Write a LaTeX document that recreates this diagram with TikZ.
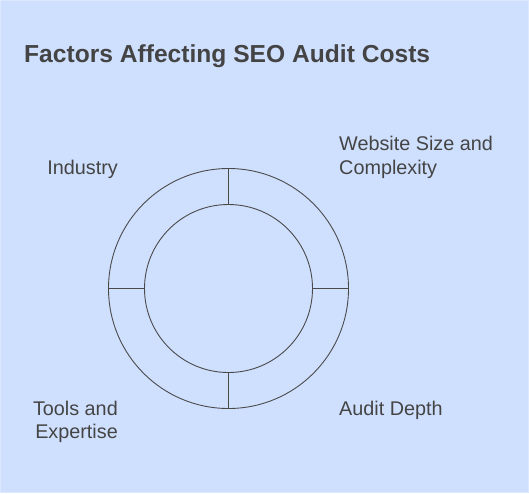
\documentclass[tikz,border=0pt]{standalone}
\usepackage{fontspec}
\setmainfont{Liberation Sans}
\definecolor{bgblue}{HTML}{CFE0FF}
\definecolor{bgedge}{HTML}{DCE8FF}
\definecolor{txt}{HTML}{444444}
\definecolor{ln}{HTML}{4A4A4A}
\begin{document}
\begin{tikzpicture}[x=1pt,y=-1pt,
  lbl/.style={inner sep=0pt,text=txt,font=\fontsize{19.8}{23.6}\selectfont},
  ring/.style={circle,draw=ln,line width=0.9pt,inner sep=0pt},
  spoke/.style={draw=ln,line width=0.9pt}]
\useasboundingbox (0,0) rectangle (529,493);
\fill[bgblue] (0,0) rectangle (529,493);
\draw[bgedge,line width=1pt] (0.5,0.5) rectangle (528.5,492.5);
\node[anchor=base west,inner sep=0pt,text=txt,font=\fontsize{24.6}{29}\selectfont\bfseries] (title) at (24,62.5) {Factors Affecting SEO Audit Costs};
\node[ring,minimum size=240pt] (outer) at (228.5,288.5) {};
\node[ring,minimum size=168pt] (inner) at (228.5,288.5) {};
\draw[spoke] (inner.north) -- (outer.north);
\draw[spoke] (inner.south) -- (outer.south);
\draw[spoke] (inner.east) -- (outer.east);
\draw[spoke] (inner.west) -- (outer.west);
\node[lbl,anchor=base east] (ind) at (118,174.3) {Industry};
\node[lbl,anchor=base west,align=left] (web) at (339,174.3) {Website Size and\\Complexity};
\node[lbl,anchor=base west] (aud) at (339,415) {Audit Depth};
\node[lbl,anchor=base east,align=right] (tools) at (118,438.6) {Tools and\\Expertise};
\end{tikzpicture}
\end{document}
